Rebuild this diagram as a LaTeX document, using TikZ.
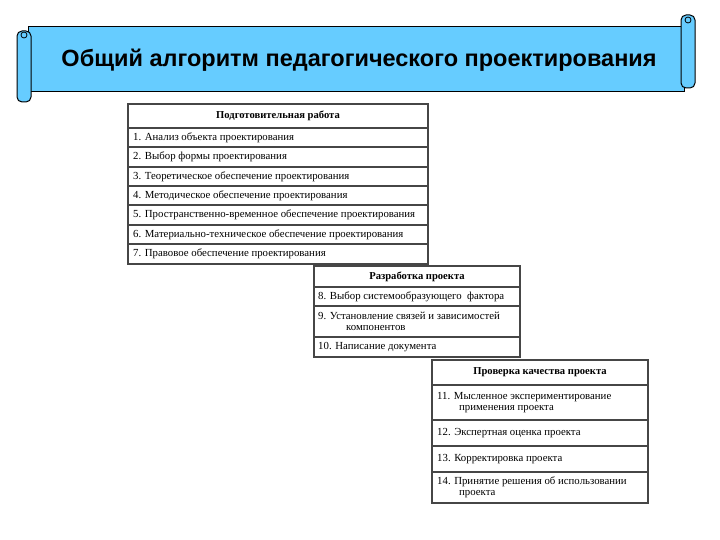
\documentclass[tikz,border=0pt]{standalone}
\usepackage{fontspec}
\setmainfont{Liberation Serif}
\newfontfamily\titlefont{Liberation Sans}
\definecolor{banner}{RGB}{102,204,255}
\definecolor{rule}{RGB}{70,70,70}
\begin{document}
\begin{tikzpicture}[x=1pt,y=-1pt,
  cell/.style={draw=rule,line width=1.1pt},
  rowtxt/.style={anchor=west,font=\fontsize{10.8}{11.5}\selectfont,inner sep=0pt,align=left},
  headtxt/.style={anchor=center,font=\bfseries\fontsize{10.6}{12}\selectfont,inner sep=0pt}]
\useasboundingbox (0,0) rectangle (720,540);
% banner
\draw[fill=banner,line width=1pt] (28,27) rectangle (684,92);
\draw[fill=banner,line width=1pt,rounded corners=5pt] (17,31) rectangle (31,102);
\draw[fill=banner,line width=0.8pt] (24,35) circle (3);
\draw[fill=banner,line width=1pt,rounded corners=5pt] (681,15) rectangle (695,88);
\draw[fill=banner,line width=0.8pt] (688,20) circle (3);
\node[font=\titlefont\bfseries\fontsize{23.5}{26}\selectfont] (title) at (359,60) {Общий алгоритм педагогического проектирования};
% table 1
\def\Ax{128}\def\Bx{428}
\draw[cell] (\Ax,104) rectangle (\Bx,264);
\foreach \y in {128,147,167,186,205,225,244} \draw[cell] (\Ax,\y) -- (\Bx,\y);
\node[headtxt] (h1) at (278,116) {Подготовительная работа};
\node[rowtxt] (r1) at (133,137.5) {1. Анализ объекта проектирования};
\node[rowtxt] (r2) at (133,157) {2. Выбор формы проектирования};
\node[rowtxt] (r3) at (133,176.5) {3. Теоретическое обеспечение проектирования};
\node[rowtxt] (r4) at (133,195.5) {4. Методическое обеспечение проектирования};
\node[rowtxt] (r5) at (133,215) {5. Пространственно-временное обеспечение проектирования};
\node[rowtxt] (r6) at (133,234.5) {6. Материально-техническое обеспечение проектирования};
\node[rowtxt] (r7) at (133,254) {7. Правовое обеспечение проектирования};
% table 2
\draw[cell] (314,266) rectangle (520,357);
\foreach \y in {287,306,337} \draw[cell] (314,\y) -- (520,\y);
\node[headtxt] (h2) at (417,276.5) {Разработка проекта};
\node[rowtxt] (r8) at (318,296.5) {8. Выбор системообразующего \ фактора};
\node[rowtxt] (r9) at (318,321.5) {9. Установление связей и зависимостей\\\hspace*{28pt}компонентов};
\node[rowtxt] (r10) at (318,347) {10. Написание документа};
% table 3
\draw[cell] (432,360) rectangle (648,503);
\foreach \y in {385,420,446,472} \draw[cell] (432,\y) -- (648,\y);
\node[headtxt] (h3) at (540,372.5) {Проверка качества проекта};
\node[rowtxt] (r11) at (437,402.5) {11. Мысленное экспериментирование\\\hspace*{22pt}применения проекта};
\node[rowtxt] (r12) at (437,433) {12. Экспертная оценка проекта};
\node[rowtxt] (r13) at (437,459) {13. Корректировка проекта};
\node[rowtxt] (r14) at (437,487.5) {14. Принятие решения об использовании\\\hspace*{22pt}проекта};
\end{tikzpicture}
\end{document}
